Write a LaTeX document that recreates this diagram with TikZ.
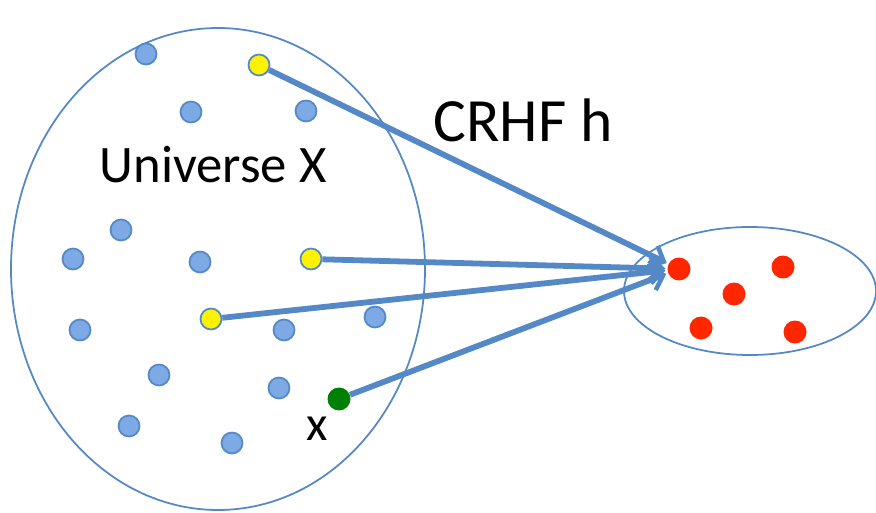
\documentclass[tikz,border=0pt]{standalone}
\usepackage{fontspec}
\setmainfont{Carlito}
\usepackage{tikz}
\usetikzlibrary{arrows.meta,positioning}

\definecolor{lineblue}{RGB}{84,136,198}
\definecolor{dotblue}{RGB}{125,170,228}
\definecolor{dotred}{RGB}{255,38,0}
\definecolor{dotgreen}{RGB}{0,128,0}

\tikzset{
  elem/.style={shape=circle,draw=lineblue,line width=1pt,fill=dotblue,minimum size=0.42cm,inner sep=0pt},
  pick/.style={elem,fill=yellow},
  hit/.style={shape=circle,fill=dotred,minimum size=0.46cm,inner sep=0pt},
  maps/.style={line width=3.3pt,draw=lineblue,-{Straight Barb[length=7pt,width=13pt,line width=2.6pt]},shorten >=1pt}
}

\begin{document}
\begin{tikzpicture}[x=0.02cm,y=-0.02cm]
			\useasboundingbox (0,0) rectangle (876,513);
			% the two sets
			\draw[lineblue,line width=1pt,fill=white] (218,269) ellipse [x radius=207,y radius=241];
			\draw[lineblue,line width=1pt,fill=white] (750,291) ellipse [x radius=126,y radius=64];
			\node[font=\fontsize{30}{36}\selectfont] (univ) at (213,165) {Universe X};
			\node[font=\fontsize{35}{42}\selectfont] (crhf) at (523,120) {CRHF h};
			
			\node[elem] (u1) at (146,54) {};
			\node[elem] (u2) at (191,112) {};
			\node[elem] (u3) at (306,111) {};
			\node[elem] (u4) at (121,230) {};
			\node[elem] (u5) at (73,259) {};
			\node[elem] (u6) at (200,262) {};
			\node[elem] (u7) at (80,330) {};
			\node[elem] (u8) at (284,330) {};
			\node[elem] (u9) at (375,317) {};
			\node[elem] (u10) at (159,375) {};
			\node[elem] (u11) at (279,388) {};
			\node[elem] (u12) at (129,426) {};
			\node[elem] (u13) at (232,443) {};
			
			\node[pick] (y1) at (259,65) {};
			\node[pick] (y2) at (311,259) {};
			\node[pick] (y3) at (211,319) {};
			\node[shape=circle,fill=dotgreen,minimum size=0.46cm,inner sep=0pt] (x) at (339,399) {};
			\node[font=\fontsize{28}{34}\selectfont] (xlab) at (317,429) {x};
			
			% image set
			\node[hit] (h1) at (679,269) {};
			\node[hit] (h2) at (783,267) {};
			\node[hit] (h3) at (734,294) {};
			\node[hit] (h4) at (701,328) {};
			\node[hit] (h5) at (795,332) {};
			
			\path[maps](y1) edge (h1);
			\path[maps](y2) edge (h1);
			\path[maps](y3) edge (h1);
			\path[maps](x) edge (h1);
			\end{tikzpicture}
\end{document}
